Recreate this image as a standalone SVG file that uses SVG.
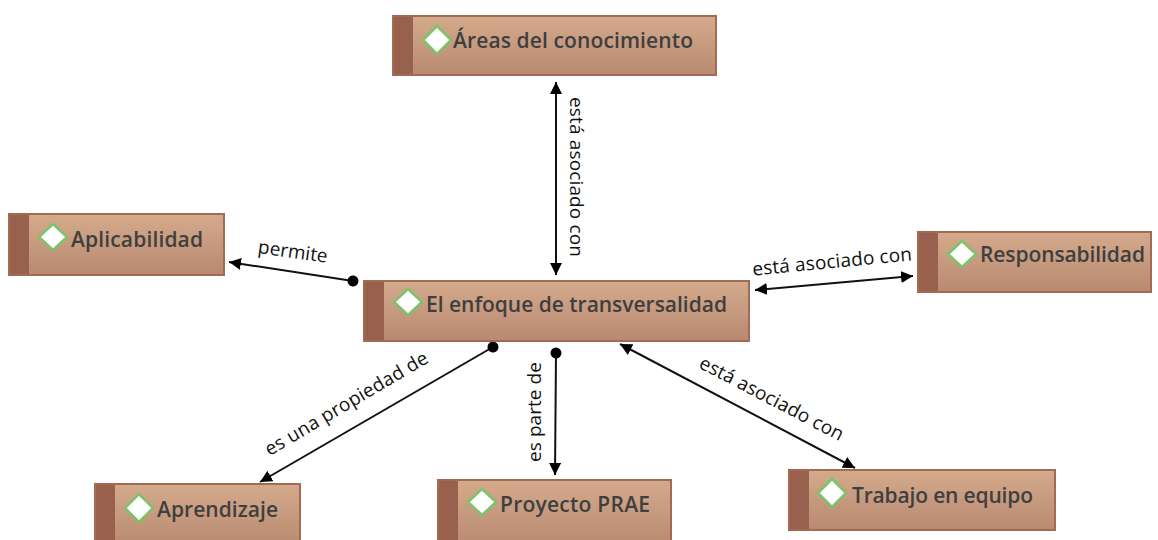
<svg xmlns="http://www.w3.org/2000/svg" width="1158" height="540" viewBox="0 0 1158 540">
<defs>
<linearGradient id="boxg" x1="0" y1="0" x2="0" y2="1">
<stop offset="0" stop-color="#d4aa8c"/>
<stop offset="1" stop-color="#b88a71"/>
</linearGradient>
<marker id="arr" viewBox="0 0 12 12" refX="12" refY="6" markerWidth="12" markerHeight="12" markerUnits="userSpaceOnUse" orient="auto-start-reverse">
<path d="M0,0 L12,6 L0,12 Z" fill="#000"/>
</marker>
<marker id="dot" viewBox="0 0 12 12" refX="6" refY="6" markerWidth="12" markerHeight="12" markerUnits="userSpaceOnUse" orient="auto">
<circle cx="6" cy="6" r="5.5" fill="#000"/>
</marker>
<style>
.box{fill:url(#boxg);stroke:#a36b55;stroke-width:2}
.strip{fill:#98614d}
.dia{fill:#fff;stroke:#7cc36a;stroke-width:2.5}
.lbl{font-family:"Open Sans","Noto Sans",sans-serif;font-weight:600;font-size:21px;fill:#3f3f3f}
.con{stroke:#111;stroke-width:2;fill:none}
.ct{font-family:"Open Sans","Noto Sans",sans-serif;font-size:19px;fill:#111;text-anchor:middle;dominant-baseline:central}
</style>
</defs>
<rect width="1158" height="540" fill="#fff"/>
<g id="connectors">
<line class="con" x1="556" y1="82" x2="556" y2="275" marker-start="url(#arr)" marker-end="url(#arr)"/>
<text class="ct" transform="translate(577,177) rotate(90)" textLength="160">está asociado con</text>
<line class="con" x1="353" y1="281" x2="229" y2="262" marker-start="url(#dot)" marker-end="url(#arr)"/>
<text class="ct" transform="translate(293,251) rotate(8)" textLength="70">permite</text>
<line class="con" x1="755" y1="290" x2="913" y2="276" marker-start="url(#arr)" marker-end="url(#arr)"/>
<text class="ct" transform="translate(832,261) rotate(-5.5)" textLength="160">está asociado con</text>
<line class="con" x1="493" y1="347" x2="260" y2="482" marker-start="url(#dot)" marker-end="url(#arr)"/>
<text class="ct" transform="translate(346,403) rotate(-30.5)" textLength="186">es una propiedad de</text>
<line class="con" x1="556" y1="353" x2="555" y2="475" marker-start="url(#dot)" marker-end="url(#arr)"/>
<text class="ct" transform="translate(534,412) rotate(-90)" textLength="100">es parte de</text>
<line class="con" x1="620" y1="344" x2="855" y2="468" marker-start="url(#arr)" marker-end="url(#arr)"/>
<text class="ct" transform="translate(772,398) rotate(27.6)" textLength="160">está asociado con</text>
</g>
<g id="n-areas">
<rect class="box" x="393" y="16" width="323" height="59"/>
<rect class="strip" x="394" y="17" width="19" height="57"/>
<path class="dia" d="M437,26 L451,40 L437,54 L423,40 Z"/>
<text class="lbl" x="453" y="48" textLength="240">Áreas del conocimiento</text>
</g>
<g id="n-enfoque">
<rect class="box" x="364" y="281" width="385" height="60"/>
<rect class="strip" x="365" y="282" width="19" height="58"/>
<path class="dia" d="M408,289 L422,302 L408,315 L394,302 Z"/>
<text class="lbl" x="426" y="312" textLength="301">El enfoque de transversalidad</text>
</g>
<g id="n-aplicabilidad">
<rect class="box" x="9" y="214" width="215" height="61"/>
<rect class="strip" x="10" y="215" width="19" height="59"/>
<path class="dia" d="M53,224 L67,237 L53,250 L39,237 Z"/>
<text class="lbl" x="71" y="247" textLength="132">Aplicabilidad</text>
</g>
<g id="n-responsabilidad">
<rect class="box" x="918" y="232" width="233" height="60"/>
<rect class="strip" x="919" y="233" width="19" height="58"/>
<path class="dia" d="M962,241 L976,254 L962,267 L948,254 Z"/>
<text class="lbl" x="980" y="262" textLength="165">Responsabilidad</text>
</g>
<g id="n-aprendizaje">
<rect class="box" x="95" y="484" width="205" height="62"/>
<rect class="strip" x="96" y="485" width="19" height="60"/>
<path class="dia" d="M139,494 L153,508 L139,522 L125,508 Z"/>
<text class="lbl" x="157" y="517" textLength="121">Aprendizaje</text>
</g>
<g id="n-prae">
<rect class="box" x="438" y="480" width="233" height="66"/>
<rect class="strip" x="439" y="481" width="19" height="64"/>
<path class="dia" d="M482,489 L496,502 L482,515 L468,502 Z"/>
<text class="lbl" x="500" y="512" textLength="150">Proyecto PRAE</text>
</g>
<g id="n-trabajo">
<rect class="box" x="789" y="470" width="266" height="60"/>
<rect class="strip" x="790" y="471" width="19" height="58"/>
<path class="dia" d="M832,479 L846,493 L832,507 L818,493 Z"/>
<text class="lbl" x="852" y="503" textLength="181">Trabajo en equipo</text>
</g>
</svg>
